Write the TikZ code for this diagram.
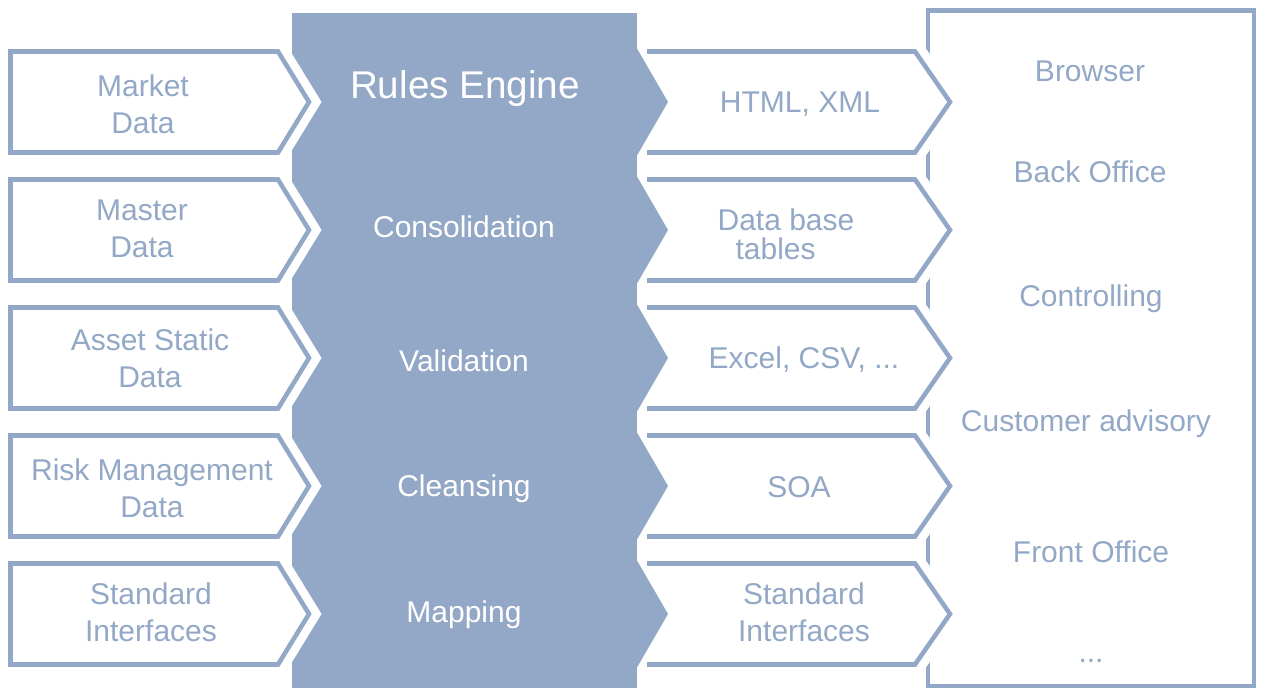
\documentclass[tikz,border=0pt]{standalone}
\usepackage{fontspec}
\setmainfont{Liberation Sans}
\definecolor{steel}{HTML}{93A8C6}

\begin{document}
\begin{tikzpicture}[x=0.75pt, y=-0.75pt,
        outline/.style={draw=steel, line width=3.4pt, line join=miter},
        halo/.style={draw=white, fill=white, line width=16pt, line join=miter},
        lbl/.style={text=steel, font=\fontsize{22.5}{28}\selectfont, align=center, inner sep=0pt},
        wlbl/.style={lbl, text=white}]

            \useasboundingbox (0,0) rectangle (1261,688);

            % target frame and engine block
            \draw[outline] (928,10.5) rectangle (1254,686);
            \fill[steel] (292,13) rectangle (637,688);

            % input and output chevrons
            \foreach \t in {51.5,179.5,307.5,435.5,563.5} {
                \path[halo] (10.5,\t) -- (278,\t) -- (309,\t+50.5) -- (278,\t+101) -- (10.5,\t+101) -- cycle;
                \draw[outline] (10.5,\t) -- (278,\t) -- (309,\t+50.5) -- (278,\t+101) -- (10.5,\t+101) -- cycle;
                \path[halo] (647,\t) -- (915,\t) -- (950,\t+50.5) -- (915,\t+101) -- (647,\t+101);
                \draw[outline] (647,\t) -- (915,\t) -- (950,\t+50.5) -- (915,\t+101) -- (647,\t+101);
                \fill[steel] (637,\t-3) -- (668,\t+50.5) -- (637,\t+104) -- cycle;
            }

            \node[lbl] (market) at (143,104)  {Market\\Data};
            \node[lbl] (master) at (142,229)  {Master\\Data};
            \node[lbl] (asset)  at (150,358)  {Asset Static\\Data};
            \node[lbl] (risk)   at (152,488)  {Risk Management\\Data};
            \node[lbl] (stdin)  at (151,612)  {Standard\\Interfaces};

            \node[wlbl, font=\fontsize{29}{34}\selectfont] (rules) at (465,89) {Rules Engine};
            \node[wlbl] (consolidation) at (464,227) {Consolidation};
            \node[wlbl] (validation)    at (464,361) {Validation};
            \node[wlbl] (cleansing)     at (464,489) {Cleansing};
            \node[wlbl] (mapping)       at (464,615) {Mapping};

            \node[lbl] (html)   at (800,104) {HTML, XML};
            \node[lbl, font=\fontsize{22.5}{21.75}\selectfont, align=left] (dbtables) at (786,234) {Data base\\\hspace*{13.5pt}tables};
            \node[lbl] (excel)  at (804,360) {Excel, CSV, ...};
            \node[lbl] (soa)    at (799,487) {SOA};
            \node[lbl] (stdout) at (804,612) {Standard\\Interfaces};

            \node[lbl] (browser)    at (1090,71)  {Browser};
            \node[lbl] (backoffice) at (1090,172) {Back Office};
            \node[lbl] (controlling) at (1091,299) {Controlling};
            \node[lbl] (advisory)   at (1086,424) {Customer advisory};
            \node[lbl] (frontoffice) at (1091,552) {Front Office};
            \node[lbl] (more)       at (1091,661) {...};

        \end{tikzpicture}
\end{document}
